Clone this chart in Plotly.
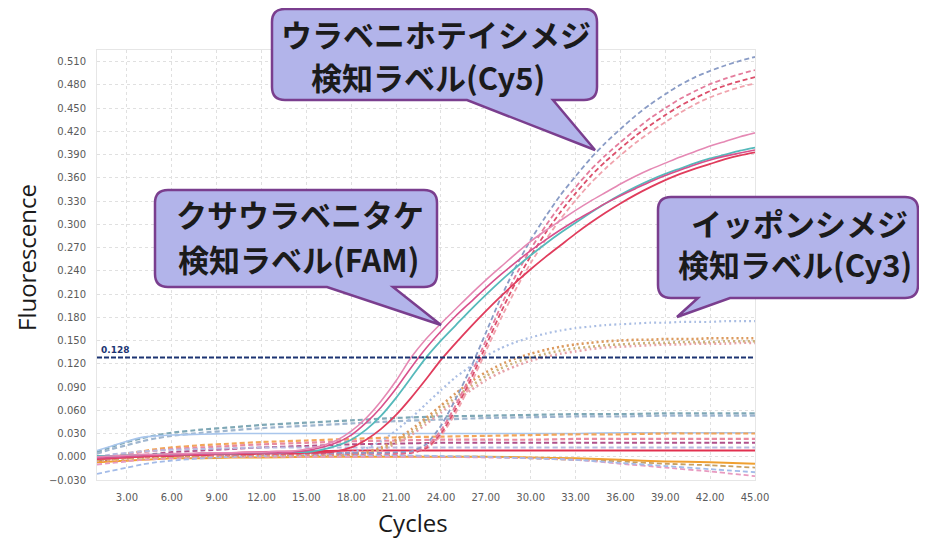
import plotly.graph_objects as go

# ---------------- data ----------------
CYCLES = list(range(1, 46))
BASE_CYCLES = [1, 2, 3, 4, 5, 6, 8, 10, 12, 15, 18, 21, 24, 27, 30, 33, 36, 39, 42, 45]
X_TICKS = [3, 6, 9, 12, 15, 18, 21, 24, 27, 30, 33, 36, 39, 42, 45]
X_TICK_LABELS = ["3.00", "6.00", "9.00", "12.00", "15.00", "18.00", "21.00", "24.00",
                 "27.00", "30.00", "33.00", "36.00", "39.00", "42.00", "45.00"]
THRESHOLD = 0.128

# FAM (solid)
fam_pink = [0.000, 0.001, 0.002, 0.003, 0.003, 0.004, 0.004, 0.005, 0.005, 0.005, 0.006, 0.006, 0.007, 0.007, 0.010,
            0.014, 0.021, 0.033, 0.050, 0.072, 0.098, 0.128, 0.152, 0.172, 0.191, 0.210, 0.228, 0.245, 0.262, 0.278,
            0.292, 0.305, 0.318, 0.330, 0.341, 0.352, 0.362, 0.371, 0.379, 0.387, 0.394, 0.401, 0.407, 0.413, 0.418]
fam_magenta = [-0.002, -0.001, 0.000, 0.001, 0.002, 0.002, 0.003, 0.003, 0.004, 0.004, 0.005, 0.005, 0.005, 0.006, 0.008,
               0.012, 0.018, 0.028, 0.044, 0.064, 0.088, 0.115, 0.140, 0.162, 0.182, 0.200, 0.218, 0.235, 0.251, 0.266,
               0.280, 0.293, 0.305, 0.316, 0.327, 0.337, 0.346, 0.355, 0.363, 0.370, 0.377, 0.383, 0.388, 0.392, 0.396]
fam_teal = [0.001, 0.001, 0.002, 0.002, 0.003, 0.003, 0.003, 0.004, 0.004, 0.004, 0.005, 0.005, 0.005, 0.006, 0.006,
            0.009, 0.014, 0.022, 0.035, 0.053, 0.076, 0.102, 0.128, 0.150, 0.170, 0.190, 0.209, 0.227, 0.244, 0.260,
            0.275, 0.289, 0.302, 0.315, 0.327, 0.338, 0.348, 0.357, 0.365, 0.372, 0.379, 0.385, 0.390, 0.395, 0.399]
fam_red = [-0.003, -0.002, -0.001, 0.000, 0.001, 0.001, 0.002, 0.002, 0.003, 0.003, 0.003, 0.004, 0.004, 0.004, 0.005,
           0.005, 0.007, 0.012, 0.022, 0.036, 0.054, 0.076, 0.100, 0.125, 0.147, 0.168, 0.188, 0.207, 0.225, 0.242,
           0.258, 0.273, 0.288, 0.302, 0.315, 0.327, 0.338, 0.348, 0.357, 0.365, 0.372, 0.378, 0.384, 0.389, 0.393]

# Cy5 (dashed)
cy5_blue = [0.000, 0.001, 0.001, 0.002, 0.002, 0.003, 0.003, 0.003, 0.004, 0.004, 0.004, 0.004, 0.005, 0.005, 0.005,
            0.005, 0.005, 0.005, 0.005, 0.005, 0.006, 0.007, 0.016, 0.040, 0.075, 0.115, 0.160, 0.205, 0.245, 0.280,
            0.310, 0.338, 0.362, 0.385, 0.405, 0.423, 0.440, 0.455, 0.468, 0.480, 0.490, 0.498, 0.505, 0.511, 0.516]
cy5_pink = [-0.001, 0.000, 0.001, 0.001, 0.002, 0.002, 0.003, 0.003, 0.003, 0.004, 0.004, 0.004, 0.004, 0.005, 0.005,
            0.005, 0.005, 0.005, 0.005, 0.005, 0.005, 0.006, 0.013, 0.034, 0.067, 0.106, 0.150, 0.194, 0.234, 0.268,
            0.298, 0.325, 0.348, 0.370, 0.389, 0.406, 0.422, 0.437, 0.450, 0.462, 0.472, 0.481, 0.488, 0.494, 0.499]
cy5_red = [-0.002, -0.001, 0.000, 0.001, 0.001, 0.002, 0.002, 0.003, 0.003, 0.003, 0.003, 0.004, 0.004, 0.004, 0.004,
           0.004, 0.004, 0.004, 0.004, 0.004, 0.004, 0.005, 0.011, 0.030, 0.062, 0.100, 0.143, 0.186, 0.225, 0.259,
           0.289, 0.316, 0.340, 0.362, 0.381, 0.398, 0.414, 0.428, 0.441, 0.453, 0.463, 0.472, 0.479, 0.485, 0.490]
cy5_salmon = [-0.003, -0.002, -0.001, 0.000, 0.001, 0.001, 0.002, 0.002, 0.002, 0.003, 0.003, 0.003, 0.003, 0.003, 0.004,
              0.004, 0.004, 0.004, 0.004, 0.004, 0.004, 0.005, 0.010, 0.027, 0.057, 0.094, 0.136, 0.178, 0.216, 0.250,
              0.280, 0.307, 0.331, 0.353, 0.372, 0.389, 0.405, 0.419, 0.432, 0.444, 0.455, 0.464, 0.471, 0.477, 0.482]

# Cy3 (dotted)
cy3_blue = [0.000, 0.001, 0.001, 0.002, 0.002, 0.002, 0.003, 0.003, 0.003, 0.003, 0.003, 0.004, 0.004, 0.004, 0.004,
            0.004, 0.004, 0.006, 0.011, 0.020, 0.034, 0.050, 0.068, 0.086, 0.103, 0.117, 0.130, 0.140, 0.148, 0.154,
            0.159, 0.163, 0.166, 0.168, 0.170, 0.171, 0.172, 0.173, 0.173, 0.174, 0.174, 0.174, 0.175, 0.175, 0.175]
cy3_orange = [-0.003, -0.002, -0.001, 0.000, 0.000, 0.001, 0.001, 0.002, 0.002, 0.002, 0.002, 0.003, 0.003, 0.003, 0.003,
              0.003, 0.003, 0.004, 0.006, 0.012, 0.022, 0.035, 0.050, 0.066, 0.082, 0.097, 0.109, 0.119, 0.127, 0.133,
              0.138, 0.142, 0.145, 0.147, 0.149, 0.150, 0.151, 0.151, 0.152, 0.152, 0.152, 0.153, 0.153, 0.153, 0.153]
cy3_tan = [-0.004, -0.003, -0.002, -0.001, 0.000, 0.000, 0.001, 0.001, 0.001, 0.002, 0.002, 0.002, 0.002, 0.002, 0.003,
           0.003, 0.003, 0.003, 0.005, 0.010, 0.019, 0.031, 0.046, 0.061, 0.077, 0.091, 0.104, 0.114, 0.122, 0.128,
           0.133, 0.137, 0.140, 0.142, 0.144, 0.145, 0.146, 0.147, 0.147, 0.148, 0.148, 0.148, 0.149, 0.149, 0.149]
cy3_pink = [-0.005, -0.004, -0.003, -0.002, -0.001, 0.000, 0.000, 0.001, 0.001, 0.001, 0.001, 0.002, 0.002, 0.002, 0.002,
            0.002, 0.002, 0.003, 0.004, 0.009, 0.017, 0.028, 0.042, 0.057, 0.072, 0.086, 0.099, 0.109, 0.117, 0.124,
            0.129, 0.133, 0.136, 0.139, 0.141, 0.142, 0.143, 0.144, 0.145, 0.145, 0.146, 0.146, 0.146, 0.147, 0.147]

# Non-amplifying wells (on BASE_CYCLES)
base_teal = [0.006, 0.013, 0.019, 0.024, 0.028, 0.031, 0.035, 0.038, 0.041, 0.044, 0.047, 0.050, 0.052, 0.053, 0.054, 0.055, 0.055, 0.056, 0.056, 0.056]
base_steel = [0.004, 0.010, 0.015, 0.020, 0.024, 0.027, 0.031, 0.034, 0.037, 0.040, 0.043, 0.046, 0.048, 0.050, 0.051, 0.052, 0.052, 0.053, 0.053, 0.053]
base_sky = [0.008, 0.014, 0.020, 0.025, 0.027, 0.028, 0.029, 0.030, 0.030, 0.030, 0.030, 0.030, 0.030, 0.030, 0.030, 0.030, 0.031, 0.031, 0.031, 0.031]
base_orange = [-0.004, 0.000, 0.004, 0.007, 0.010, 0.012, 0.015, 0.017, 0.019, 0.021, 0.023, 0.025, 0.026, 0.027, 0.028, 0.029, 0.029, 0.030, 0.030, 0.030]
base_rose = [-0.003, 0.000, 0.003, 0.006, 0.008, 0.010, 0.012, 0.014, 0.016, 0.018, 0.020, 0.021, 0.022, 0.022, 0.022, 0.023, 0.023, 0.023, 0.023, 0.023]
base_purple = [-0.006, -0.003, 0.000, 0.002, 0.004, 0.006, 0.008, 0.010, 0.012, 0.014, 0.016, 0.017, 0.018, 0.018, 0.018, 0.018, 0.018, 0.018, 0.018, 0.018]
base_lavender = [0.000, 0.003, 0.005, 0.007, 0.008, 0.009, 0.010, 0.011, 0.012, 0.012, 0.012, 0.012, 0.012, 0.012, 0.012, 0.012, 0.012, 0.012, 0.012, 0.012]
base_red = [-0.003, -0.002, 0.000, 0.001, 0.002, 0.003, 0.004, 0.005, 0.006, 0.007, 0.008, 0.008, 0.008, 0.008, 0.008, 0.008, 0.008, 0.008, 0.008, 0.008]
base_gold = [-0.007, -0.006, -0.005, -0.004, -0.003, -0.002, -0.002, -0.001, -0.001, 0.000, 0.000, 0.000, 0.000, 0.000, -0.001, -0.002, -0.004, -0.006, -0.007, -0.009]
base_brown = [-0.004, -0.003, -0.002, -0.001, 0.000, 0.000, 0.001, 0.001, 0.001, 0.001, 0.001, 0.001, 0.000, 0.000, -0.002, -0.004, -0.006, -0.009, -0.011, -0.014]
base_pinkdrift = [-0.010, -0.008, -0.006, -0.004, -0.003, -0.002, -0.001, 0.000, 0.000, 0.000, 0.000, 0.000, 0.000, -0.001, -0.002, -0.004, -0.009, -0.014, -0.019, -0.025]
base_bluedrift = [-0.022, -0.018, -0.014, -0.010, -0.007, -0.005, -0.002, 0.000, 0.001, 0.002, 0.002, 0.002, 0.001, 0.000, -0.002, -0.004, -0.008, -0.012, -0.016, -0.020]

# ---------------- figure ----------------
fig = go.Figure()

DASH = "5px,3px"
DOT = "2px,3px"

baselines = [
    (base_teal, "#7fa8b6", DASH, 2.2),
    (base_steel, "#9fb6cf", DASH, 2.2),
    (base_sky, "#a9c6ec", "solid", 1.6),
    (base_orange, "#f2a65a", DASH, 2.2),
    (base_rose, "#e98aa0", DASH, 2.2),
    (base_purple, "#b0508a", DASH, 2.0),
    (base_lavender, "#b7b9e0", DASH, 2.0),
    (base_red, "#e2304f", "solid", 2.0),
    (base_gold, "#f0a030", "solid", 2.0),
    (base_brown, "#c9a060", DASH, 1.8),
    (base_pinkdrift, "#e89ac0", DASH, 1.8),
    (base_bluedrift, "#a3bbe8", DASH, 1.8),
]
for ys, col, dash, w in baselines:
    fig.add_trace(go.Scatter(x=BASE_CYCLES, y=ys, mode="lines",
                             line=dict(color=col, dash=dash, width=w, shape="spline", smoothing=0.6),
                             showlegend=False, hoverinfo="skip"))

amplified = [
    (cy3_pink, "#e7a2a8", DOT, 2.6),
    (cy3_tan, "#cdb27a", DOT, 2.6),
    (cy3_orange, "#dc9a5e", DOT, 2.6),
    (cy3_blue, "#a9bde3", DOT, 2.2),
    (cy5_salmon, "#f0a3ad", DASH, 1.8),
    (cy5_red, "#dc4f6b", DASH, 1.8),
    (cy5_pink, "#e47c9c", DASH, 1.8),
    (cy5_blue, "#8a9cc6", DASH, 1.8),
    (fam_red, "#e03c5c", "solid", 1.8),
    (fam_teal, "#56b9bb", "solid", 1.8),
    (fam_magenta, "#d8508c", "solid", 1.6),
    (fam_pink, "#e589b4", "solid", 1.6),
]
for ys, col, dash, w in amplified:
    fig.add_trace(go.Scatter(x=CYCLES, y=ys, mode="lines",
                             line=dict(color=col, dash=dash, width=w, shape="spline", smoothing=0.6),
                             showlegend=False, hoverinfo="skip"))

# threshold line
fig.add_trace(go.Scatter(x=[1, 45], y=[THRESHOLD, THRESHOLD], mode="lines",
                         line=dict(color="#1c3472", dash="5px,2px", width=2),
                         showlegend=False, hoverinfo="skip"))

# ---------------- layout geometry ----------------
# The page body has an 8px default margin, so the figure is placed at (8, 8).
OFF = 8
IMG_W, IMG_H = 927, 543
PLOT_L, PLOT_R, PLOT_T, PLOT_B = 97, 755, 50, 480   # plot area in screenshot pixels
W, H = IMG_W - OFF, IMG_H - OFF
ML, MT = PLOT_L - OFF, PLOT_T - OFF
MR = IMG_W - PLOT_R
MB = IMG_H - PLOT_B
PW = PLOT_R - PLOT_L
PH = PLOT_B - PLOT_T


def px2paper(px, py):
    return (px - PLOT_L) / PW, (PLOT_B - py) / PH


def P(px, py):
    a, b = px2paper(px, py)
    return f"{a:.5f},{b:.5f}"


def bubble(x0, y0, x1, y1, bx1, bx2, tx, ty, r=13):
    return (f"M {P(x0 + r, y0)} L {P(x1 - r, y0)} Q {P(x1, y0)} {P(x1, y0 + r)} "
            f"L {P(x1, y1 - r)} Q {P(x1, y1)} {P(x1 - r, y1)} L {P(bx2, y1)} L {P(tx, ty)} "
            f"L {P(bx1, y1)} L {P(x0 + r, y1)} Q {P(x0, y1)} {P(x0, y1 - r)} "
            f"L {P(x0, y0 + r)} Q {P(x0, y0)} {P(x0 + r, y0)} Z")


bubbles = [
    bubble(272, 9, 597, 100, 467, 553, 595, 150),
    bubble(155, 190, 437, 287, 327, 393, 441, 325),
    bubble(658, 197, 918, 298, 698, 730, 677, 317),
]
shapes = [dict(type="path", path=p, xref="paper", yref="paper",
               fillcolor="#b2b4ea", line=dict(color="#7a3e8e", width=2.5)) for p in bubbles]

label_font = dict(family="Noto Sans CJK JP", size=31, color="#1b1b1b", weight="bold")
labels = [
    ("ウラベニホテイシメジ", 436, 33),
    ("検知ラベル(Cy5)", 428, 77),
    ("クサウラベニタケ", 300, 213),
    ("検知ラベル(FAM)", 299, 258),
    ("イッポンシメジ", 799, 223),
    ("検知ラベル(Cy3)", 795, 263),
]
annotations = []
for txt, cx, cy in labels:
    ax_, ay_ = px2paper(cx, cy)
    annotations.append(dict(text=txt, xref="paper", yref="paper", x=ax_, y=ay_,
                            xanchor="center", yanchor="middle", showarrow=False, font=label_font))

title_font = dict(family="Open Sans", size=24, color="#1a1a1a")
fx, fy = px2paper(26, 258)
annotations.append(dict(text="Fluorescence", xref="paper", yref="paper", x=fx, y=fy, textangle=-90,
                        xanchor="center", yanchor="middle", showarrow=False, font=title_font))
cx_, cy_ = px2paper(413, 522)
annotations.append(dict(text="Cycles", xref="paper", yref="paper", x=cx_, y=cy_,
                        xanchor="center", yanchor="middle", showarrow=False, font=title_font))
annotations.append(dict(text="<b>0.128</b>", xref="x", yref="y", x=1.15, y=THRESHOLD,
                        xanchor="left", yanchor="bottom", yshift=1, showarrow=False,
                        font=dict(family="DejaVu Sans", size=9, color="#1c3472")))

tick_font = dict(family="DejaVu Sans", size=10, color="#5a5a5a")
fig.update_layout(
    width=W, height=H,
    margin=dict(l=ML, r=MR, t=MT, b=MB),
    paper_bgcolor="white", plot_bgcolor="white",
    shapes=shapes, annotations=annotations,
    showlegend=False,
    xaxis=dict(range=[1, 45], tickmode="array", tickvals=X_TICKS, ticktext=X_TICK_LABELS,
               showgrid=True, gridcolor="#e0e0e0", griddash="dot", gridwidth=1,
               zeroline=False, showline=True, linecolor="#e6e6e6", linewidth=1, mirror=True,
               ticks="", tickfont=tick_font, ticklabelstandoff=8),
    yaxis=dict(range=[-0.03, 0.525], tick0=0, dtick=0.03, tickformat=".3f",
               showgrid=True, gridcolor="#e0e0e0", griddash="dot", gridwidth=1,
               zeroline=False, showline=True, linecolor="#e6e6e6", linewidth=1, mirror=True,
               ticks="", tickfont=tick_font, ticklabelstandoff=8),
)

fig.write_html("out.html")
